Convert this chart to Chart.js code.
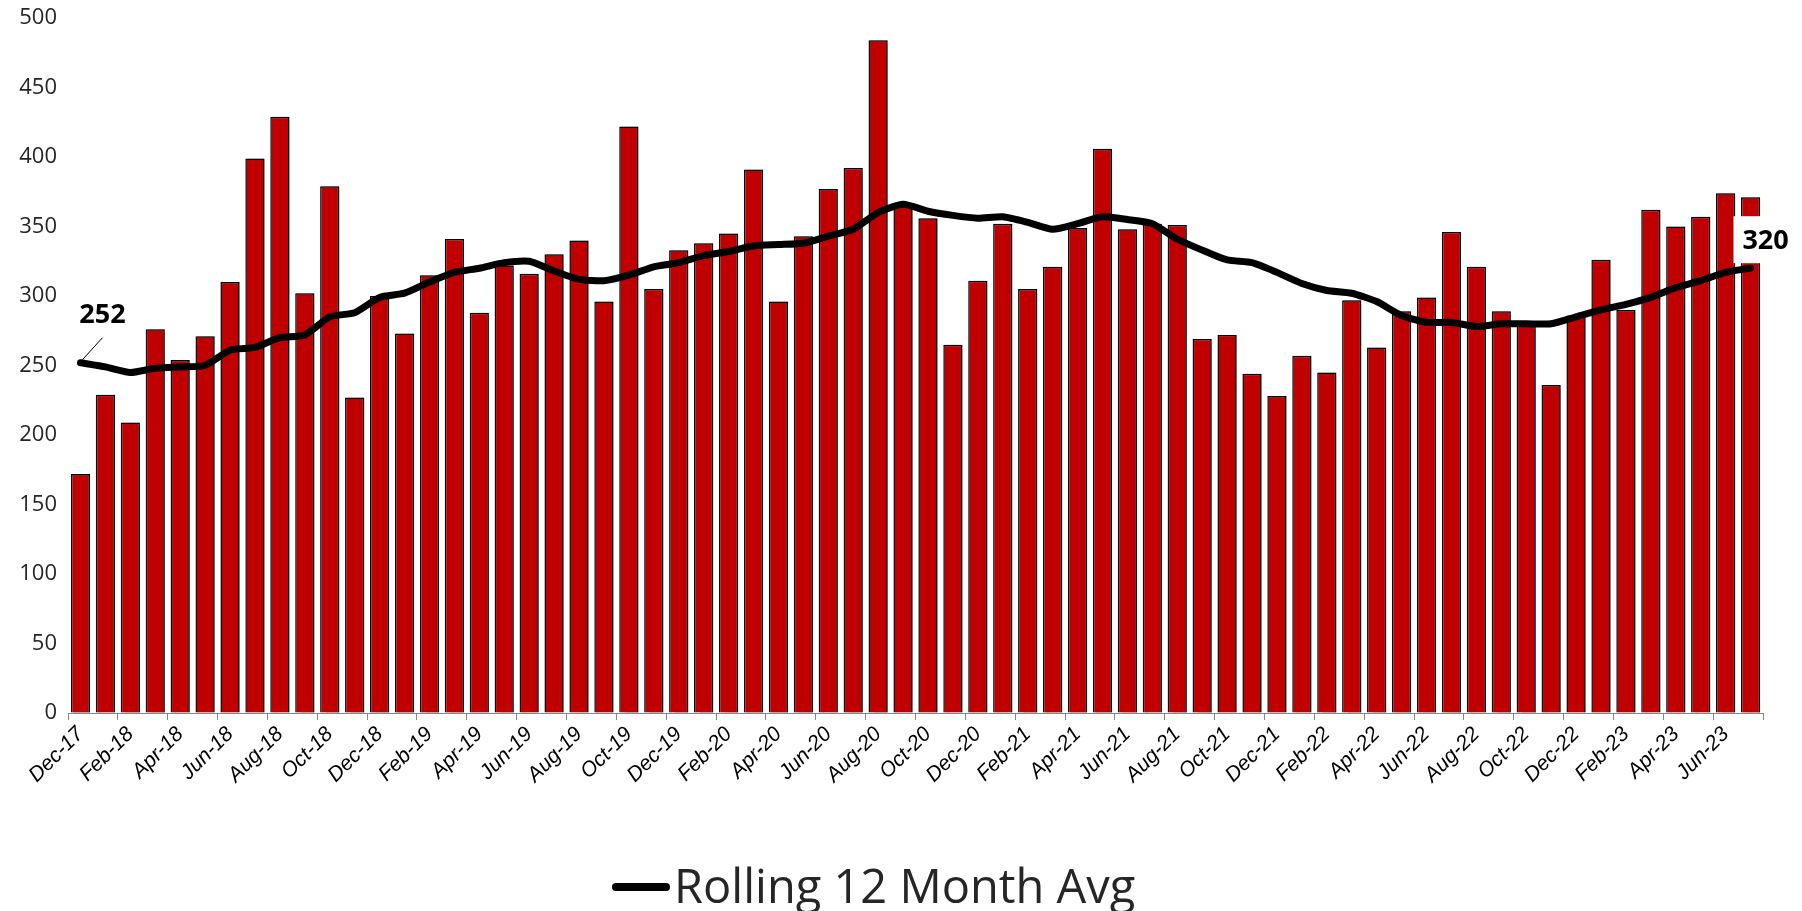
<!DOCTYPE html>
<html>
<head>
<meta charset="utf-8">
<script src="https://cdn.jsdelivr.net/npm/chart.js@4.4.0/dist/chart.umd.min.js"></script>
<style>
  html, body { margin: 0; padding: 0; background: #ffffff; }
  #wrap { width: 1802px; height: 911px; }
</style>
</head>
<body>
<div id="wrap"><canvas id="myChart" width="1802" height="911"></canvas></div>
<script>
// months Dec-17 .. Jul-23
const months = [
    'Dec-17',
    'Jan-18', 'Feb-18', 'Mar-18', 'Apr-18', 'May-18', 'Jun-18', 'Jul-18', 'Aug-18', 'Sep-18', 'Oct-18', 'Nov-18', 'Dec-18',
    'Jan-19', 'Feb-19', 'Mar-19', 'Apr-19', 'May-19', 'Jun-19', 'Jul-19', 'Aug-19', 'Sep-19', 'Oct-19', 'Nov-19', 'Dec-19',
    'Jan-20', 'Feb-20', 'Mar-20', 'Apr-20', 'May-20', 'Jun-20', 'Jul-20', 'Aug-20', 'Sep-20', 'Oct-20', 'Nov-20', 'Dec-20',
    'Jan-21', 'Feb-21', 'Mar-21', 'Apr-21', 'May-21', 'Jun-21', 'Jul-21', 'Aug-21', 'Sep-21', 'Oct-21', 'Nov-21', 'Dec-21',
    'Jan-22', 'Feb-22', 'Mar-22', 'Apr-22', 'May-22', 'Jun-22', 'Jul-22', 'Aug-22', 'Sep-22', 'Oct-22', 'Nov-22', 'Dec-22',
    'Jan-23', 'Feb-23', 'Mar-23', 'Apr-23', 'May-23', 'Jun-23', 'Jul-23'
];

const monthly = [
    172,
    229, 209, 276, 254, 271, 310, 399, 429, 302, 379, 227, 300,
    273, 315, 341, 288, 322, 316, 330, 340, 296, 422, 305, 333,
    338, 345, 391, 296, 343, 377, 392, 484, 365, 356, 265, 311,
    352, 305, 321, 349, 406, 348, 352, 351, 269, 272, 244, 228,
    257, 245, 297, 263, 289, 299, 346, 321, 289, 279, 236, 286,
    326, 290, 362, 350, 357, 374, 371
];

const rolling = [
    252,
    249, 245, 248, 249, 250, 261, 263, 270, 272, 285, 288, 299,
    302, 310, 317, 320, 324, 325, 318, 312, 311, 315, 321, 324,
    329, 332, 336, 337, 338, 343, 348, 360, 366, 361, 358, 356,
    357, 353, 348, 352, 357, 355, 352, 341, 333, 326, 324, 317,
    309, 304, 302, 296, 286, 281, 281, 278, 280, 280, 280, 285,
    290, 294, 299, 306, 311, 317, 320
];

const yTicks = [0, 50, 100, 150, 200, 250, 300, 350, 400, 450, 500];
const legendText = 'Rolling 12 Month Avg';

// small shadow on the right of the bars, like the excel original
const barShadow = {
    id: 'barShadow',
    beforeDatasetDraw(chart, args) {
        if (args.meta.type !== 'bar') return;
        const c = chart.ctx;
        c.save();
        c.shadowColor = 'rgba(0,0,0,0.35)';
        c.shadowOffsetX = 2;
        c.shadowOffsetY = 0;
        c.shadowBlur = 1;
    },
    afterDatasetDraw(chart, args) {
        if (args.meta.type !== 'bar') return;
        chart.ctx.restore();
    }
};

// first / last value labels of the rolling average
const endLabels = {
    id: 'endLabels',
    afterDatasetsDraw(chart) {
        const c = chart.ctx;
        const pts = chart.getDatasetMeta(0).data;
        const first = pts[0];
        const last = pts[pts.length - 1];

        c.save();
        c.font = 'bold 27px "Open Sans"';
        c.textAlign = 'center';
        c.textBaseline = 'middle';

        // 252 with leader line
        c.strokeStyle = '#000';
        c.lineWidth = 1;
        c.beginPath();
        c.moveTo(first.x + 2, first.y - 3);
        c.lineTo(first.x + 22, first.y - 25);
        c.stroke();
        c.fillStyle = '#000';
        c.fillText(String(rolling[0]), first.x + 22, first.y - 47);

        // 320 on white box
        c.fillStyle = '#fff';
        c.fillRect(last.x - 17, last.y - 52, 64, 47);
        c.fillStyle = '#000';
        c.fillText(String(rolling[rolling.length - 1]), last.x + 15, last.y - 27);
        c.restore();
    }
};

// legend drawn by hand so the marker sits close to the text
const bottomLegend = {
    id: 'bottomLegend',
    afterDraw(chart) {
        const c = chart.ctx;
        const left = 616;
        const y = 887;
        c.save();
        c.strokeStyle = '#000';
        c.lineWidth = 8;
        c.lineCap = 'round';
        c.beginPath();
        c.moveTo(left, y);
        c.lineTo(left + 50, y);
        c.stroke();
        c.font = '47px "Open Sans"';
        c.fillStyle = '#262626';
        c.textAlign = 'left';
        c.textBaseline = 'alphabetic';
        c.fillText(legendText, left + 58, 903);
        c.restore();
    }
};

var ctx = document.getElementById('myChart');
var myChart = new Chart(ctx, {
    type: 'bar',
    data: {
        labels: months,
        datasets: [
            {
                type: 'line',
                label: legendText,
                data: rolling,
                borderColor: '#000000',
                backgroundColor: '#000000',
                borderWidth: 7,
                borderCapStyle: 'round',
                borderJoinStyle: 'round',
                pointRadius: 0,
                tension: 0.2,
                order: 0
            },
            {
                type: 'bar',
                label: 'Monthly',
                data: monthly,
                backgroundColor: '#C00000',
                borderColor: '#000000',
                borderWidth: 1.5,
                categoryPercentage: 1,
                barPercentage: 0.77,
                order: 1
            }
        ]
    },
    options: {
        responsive: false,
        animation: false,
        events: [],
        layout: {
            padding: { left: 0, right: 39, top: 18, bottom: 98 }
        },
        plugins: {
            legend: { display: false },
            tooltip: { enabled: false },
            title: { display: false }
        },
        scales: {
            y: {
                min: 0,
                max: 500,
                afterFit: function(scale) { scale.width = 68; },
                afterBuildTicks: function(scale) {
                    scale.ticks = yTicks.map(v => ({ value: v }));
                },
                // invisible tick marks give the gap between labels and bars
                grid: {
                    display: true,
                    drawOnChartArea: false,
                    drawTicks: true,
                    tickLength: 9,
                    color: 'rgba(0,0,0,0)'
                },
                border: { display: false },
                ticks: {
                    padding: 2,
                    color: '#262626',
                    font: { family: '"Open Sans"', size: 22 }
                }
            },
            x: {
                offset: true,
                afterFit: function(scale) { scale.height = 100; },
                grid: {
                    offset: true,
                    drawOnChartArea: false,
                    drawTicks: true,
                    tickLength: 7,
                    color: function(c) {
                        if (c.index === undefined || c.index % 2 === 0) return '#868686';
                        return 'rgba(0,0,0,0)';
                    }
                },
                border: { display: true, color: '#868686', width: 1 },
                ticks: {
                    autoSkip: false,
                    maxRotation: 45,
                    minRotation: 45,
                    padding: 2,
                    color: '#000000',
                    font: { family: '"Liberation Sans"', size: 21, style: 'italic' },
                    callback: function(value, index) {
                        return index % 2 === 0 ? months[index] : '';
                    }
                }
            }
        }
    },
    plugins: [barShadow, endLabels, bottomLegend]
});
</script>
</body>
</html>
